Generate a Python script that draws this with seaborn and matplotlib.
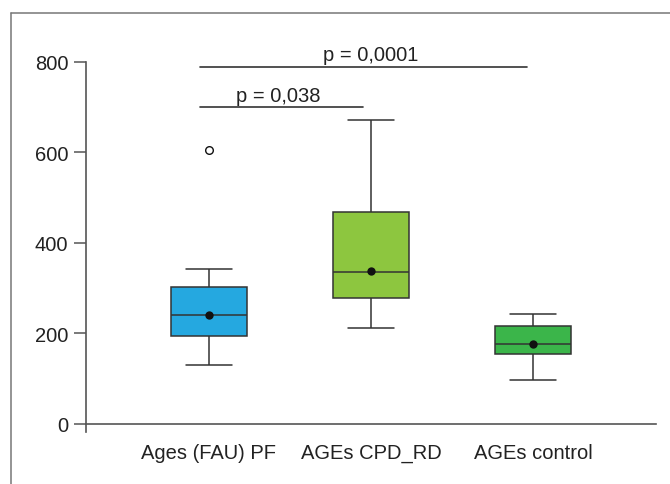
import matplotlib
matplotlib.use("Agg")
import matplotlib.pyplot as plt
from matplotlib.lines import Line2D
import seaborn as sns
import pandas as pd

# Group names and observations
groups = ["Ages (FAU) PF", "AGEs CPD_RD", "AGEs control"]
pf_values = [130, 195, 195, 241, 241, 303, 303, 342, 605]
cpd_values = [212, 277, 277, 335, 335, 335, 467, 467, 672]
control_values = [96, 155, 155, 177, 177, 177, 216, 216, 243]
group_means = [241, 338, 177]
box_colors = ["#25A8E0", "#8DC63F", "#3BB54A"]

# Significance brackets: (x start, x end, y, text)
bracket_x0 = [-0.056, -0.056]
bracket_x1 = [1.96, 0.951]
bracket_y = [789, 700]
bracket_text_x = [1.0, 0.43]
bracket_labels = ["p = 0,0001", "p = 0,038"]
y_ticks = [0, 200, 400, 600, 800]

df = pd.DataFrame({
    "group": [groups[0]] * len(pf_values)
    + [groups[1]] * len(cpd_values)
    + [groups[2]] * len(control_values),
    "value": pf_values + cpd_values + control_values,
})
means_df = pd.DataFrame({"group": groups, "value": group_means})

sns.set_style("white")
plt.rcParams["font.family"] = ["Liberation Sans", "DejaVu Sans"]

fig = plt.figure(figsize=(6.7, 4.85), dpi=100)
ax = fig.add_axes([0.1279, 0.1072, 0.8512, 0.7637])

sns.boxplot(
    data=df, x="group", y="value", hue="group", order=groups,
    hue_order=groups, palette=box_colors, legend=False,
    width=0.47, linecolor="#333333", linewidth=1.1, saturation=1,
    capwidths=0.285,
    flierprops=dict(marker="o", markerfacecolor="white",
                    markeredgecolor="#111111", markersize=5.5,
                    markeredgewidth=1.0),
    ax=ax,
)
sns.stripplot(
    data=means_df, x="group", y="value", order=groups, jitter=False,
    color="#111111", size=6, ax=ax, zorder=5,
)

for x0, x1, y, tx, lab in zip(bracket_x0, bracket_x1, bracket_y,
                              bracket_text_x, bracket_labels):
    ax.plot([x0, x1], [y, y], color="#333333", lw=1.2, clip_on=False)
    ax.text(tx, y + 14, lab, ha="center", va="baseline", fontsize=14.5,
            color="#222222")

ax.set_xlim(-0.761, 2.759)
ax.set_ylim(-18, 800)
ax.set_yticks(y_ticks)
ax.set_xlabel("")
ax.set_ylabel("")

for side in ["top", "right"]:
    ax.spines[side].set_visible(False)
ax.spines["bottom"].set_position(("data", 0))
for side in ["left", "bottom"]:
    ax.spines[side].set_color("#555555")
    ax.spines[side].set_linewidth(1.2)

ax.tick_params(axis="y", length=8.5, width=1.1, color="#555555", pad=4,
               labelsize=14.5, labelcolor="#222222", left=True)
ax.tick_params(axis="x", length=0, pad=14, labelsize=14.5,
               labelcolor="#222222")

# Frame around the figure (left and top edges)
frame_color = "#777777"
fig.add_artist(Line2D([10.5 / 670, 10.5 / 670], [0, 1 - 14 / 485],
                      transform=fig.transFigure, color=frame_color, lw=1.1))
fig.add_artist(Line2D([10.5 / 670, 1], [1 - 14 / 485, 1 - 14 / 485],
                      transform=fig.transFigure, color=frame_color, lw=1.1))

fig.savefig("out.png", dpi=100)
